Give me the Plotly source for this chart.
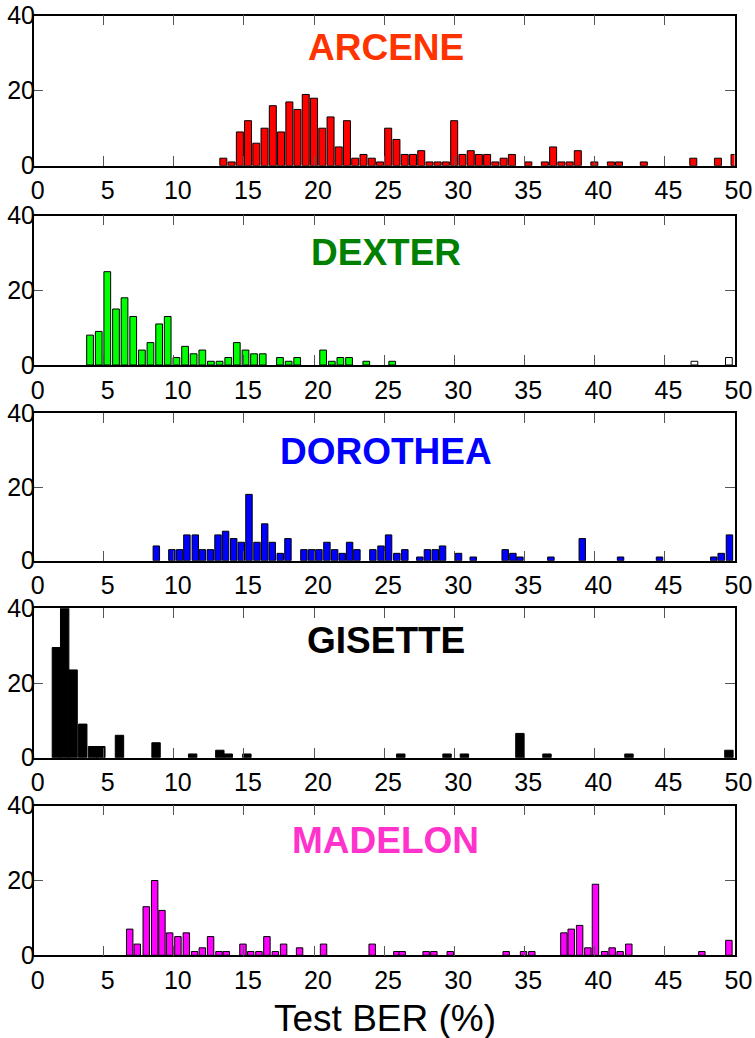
import plotly.graph_objects as go

# ---- data: bin centres (Test BER, %) and number of entries in each bin ----
arcene_ber = [13.53, 14.12, 14.71, 15.29, 15.88, 16.47, 17.06, 17.65, 18.24, 18.82,
              19.41, 20.00, 20.59, 21.18, 21.76, 22.35, 22.94, 23.53, 24.12, 24.71,
              25.29, 25.88, 26.47, 27.06, 27.65, 28.24, 28.82, 29.41, 30.00, 30.59,
              31.18, 31.76, 32.35, 32.94, 33.53, 34.12, 35.29, 36.47, 37.06, 37.65,
              38.24, 38.82, 40.00, 41.18, 41.76, 43.53, 47.06, 48.82, 50.00]
arcene_count = [2, 1, 9, 12, 6, 10, 16, 9, 17, 15,
                19, 18, 10, 13, 5, 12, 2, 3, 2, 1,
                10, 7, 3, 3, 4, 1, 1, 1, 12, 3,
                4, 3, 3, 1, 2, 3, 1, 1, 5, 1,
                1, 4, 1, 1, 1, 1, 2, 2, 3]

dexter_ber = [4.02, 4.64, 5.25, 5.87, 6.48, 7.10, 7.72, 8.33, 8.95, 9.56,
              10.18, 10.80, 11.41, 12.03, 12.64, 13.26, 13.88, 14.49, 15.11, 15.72,
              16.34, 17.57, 18.19, 18.80, 20.65, 21.27, 21.88, 22.50, 23.73, 25.58]
dexter_count = [8, 9, 25, 15, 18, 13, 4, 6, 11, 13,
                2, 5, 3, 4, 1, 1, 2, 6, 4, 3,
                3, 2, 1, 2, 4, 1, 2, 2, 1, 1]
# entries drawn as open (white) bars
dexter_open_ber = [47.14, 49.60]
dexter_open_count = [1, 2]

dorothea_ber = [8.75, 9.86, 10.41, 10.93, 11.53, 12.03, 12.60, 13.15, 13.69, 14.27,
                14.81, 15.36, 15.93, 16.48, 17.02, 17.59, 18.14, 19.28, 19.83, 20.35,
                20.92, 21.47, 22.01, 22.54, 23.06, 24.20, 24.78, 25.32, 25.91, 26.48,
                27.55, 28.09, 28.65, 29.17, 30.31, 31.36, 33.64, 34.19, 34.69, 36.90,
                39.14, 41.87, 44.65, 48.52, 49.05, 49.64]
dorothea_count = [4, 3, 3, 7, 7, 3, 3, 7, 8, 6,
                  5, 18, 5, 10, 5, 2, 6, 3, 3, 3,
                  5, 3, 2, 5, 3, 3, 4, 7, 2, 3,
                  1, 3, 3, 4, 2, 1, 3, 2, 1, 1,
                  6, 1, 1, 1, 2, 7]

gisette_ber = [1.62, 2.21, 2.81, 3.50, 4.20, 4.79, 6.12, 8.73, 11.34, 13.28,
               13.88, 15.21, 26.19, 29.49, 30.73, 34.69, 36.62, 42.47, 49.60]
gisette_count = [29.5, 40, 23.5, 9, 3, 3, 6, 4, 1, 2,
                 1, 1, 1, 1, 1, 6.5, 1, 1, 2]

madelon_ber = [6.85, 7.39, 8.03, 8.63, 9.15, 9.70, 10.29, 10.89, 11.48, 12.03,
               12.62, 13.22, 13.74, 14.93, 15.48, 16.07, 16.64, 17.24, 17.83, 18.97,
               20.68, 24.15, 25.91, 26.29, 28.00, 28.55, 29.72, 33.71, 34.95, 35.54,
               37.83, 38.35, 38.95, 39.54, 40.08, 40.73, 41.27, 41.84, 42.46, 47.67,
               49.60]
madelon_count = [7, 3, 13, 20, 12, 6, 5, 6, 1, 2,
                 5, 1, 1, 3, 1, 1, 5, 1, 3, 2,
                 3, 3, 1, 1, 1, 1, 1, 1, 1, 1,
                 6, 7, 8, 2, 19, 1, 2, 1, 3, 1,
                 4]

x_ticks = [0, 5, 10, 15, 20, 25, 30, 35, 40, 45, 50]
y_ticks = [0, 20, 40]

# ---- panel styling ----
W, H = 755, 1038
FONT = "Liberation Sans, Arial, sans-serif"
plot_left, plot_right = 33.7, 734.5

panels = [
    # name, ber, count, bar fill, title colour, bar width, top px, bottom px, title centre px
    ("ARCENE", arcene_ber, arcene_count, "#ff0000", "#ff3300", 0.50, 15.7, 165.7, 48),
    ("DEXTER", dexter_ber, dexter_count, "#00ff00", "#008000", 0.48, 215.7, 365.0, 252),
    ("DOROTHEA", dorothea_ber, dorothea_count, "#0000ff", "#0000ff", 0.46, 413.3, 560.7, 452),
    ("GISETTE", gisette_ber, gisette_count, "#000000", "#000000", 0.60, 608.3, 757.7, 640),
    ("MADELON", madelon_ber, madelon_count, "#ff00ff", "#ff33cc", 0.46, 805.7, 955.3, 840),
]

fig = go.Figure()
annotations = []

for i, (name, ber, cnt, fill, tcol, bw, top, bot, tcy) in enumerate(panels, start=1):
    xa = "x" if i == 1 else f"x{i}"
    ya = "y" if i == 1 else f"y{i}"
    fig.add_trace(go.Bar(
        x=ber, y=cnt, width=bw, xaxis=xa, yaxis=ya,
        marker=dict(color=fill, line=dict(color="#000000", width=1)),
        showlegend=False, hoverinfo="x+y",
    ))
    if name == "DEXTER":
        fig.add_trace(go.Bar(
            x=dexter_open_ber, y=dexter_open_count, width=bw, xaxis=xa, yaxis=ya,
            marker=dict(color="#ffffff", line=dict(color="#000000", width=1)),
            showlegend=False, hoverinfo="x+y",
        ))

    axis_common = dict(
        showline=True, linecolor="#000000", linewidth=1.5, mirror="ticks",
        ticks="inside", ticklen=10, tickwidth=1.2, tickcolor="#555555",
        showgrid=False, zeroline=False, automargin=False,
        tickfont=dict(family=FONT, size=25, color="#000000"),
    )
    fig.layout[("xaxis" if i == 1 else f"xaxis{i}")] = dict(
        axis_common, range=[0, 50], tickvals=x_ticks, ticktext=[str(t) for t in x_ticks],
        domain=[plot_left / W, plot_right / W], anchor=ya,
        ticklabelstandoff=2, ticklabelshift=4,
    )
    fig.layout[("yaxis" if i == 1 else f"yaxis{i}")] = dict(
        axis_common, range=[0, 40], tickvals=y_ticks, ticktext=[str(t) for t in y_ticks],
        domain=[1 - bot / H, 1 - top / H], anchor=xa, ticklabelstandoff=-8,
    )
    annotations.append(dict(
        text=f"<b>{name}</b>", x=(plot_left + plot_right) / 2 / W + 0.002, y=1 - tcy / H,
        xref="paper", yref="paper", xanchor="center", yanchor="middle",
        showarrow=False, font=dict(family=FONT, size=37, color=tcol),
    ))

annotations.append(dict(
    text="Test BER (%)", x=385 / W, y=1 - 1018 / H, xref="paper", yref="paper",
    xanchor="center", yanchor="middle", showarrow=False,
    font=dict(family=FONT, size=37, color="#000000"),
))

fig.update_layout(
    width=W, height=H, margin=dict(l=0, r=0, t=0, b=0),
    paper_bgcolor="#ffffff", plot_bgcolor="#ffffff",
    barmode="overlay", annotations=annotations,
    font=dict(family=FONT),
)

fig.write_html("out.html")
